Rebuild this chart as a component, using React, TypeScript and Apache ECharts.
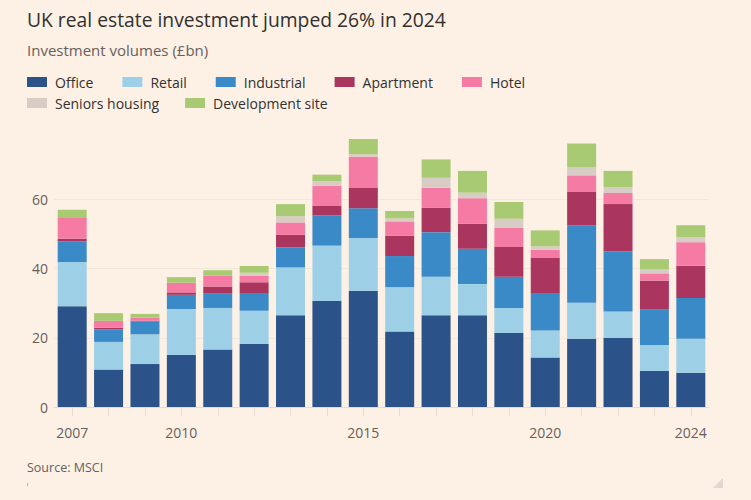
import React, { useEffect, useRef } from "react";
import * as echarts from "echarts";

const years = ["2007","2008","2009","2010","2011","2012","2013","2014","2015","2016","2017","2018","2019","2020","2021","2022","2023","2024"];
const shownYears = ["2007","2010","2015","2020","2024"];

const office     = [29.1,10.8,12.4,15.0,16.6,18.2,26.5,30.6,33.6,21.8,26.5,26.5,21.4,14.3,19.7,20.0,10.4, 9.9];
const retail     = [12.8, 8.0, 8.6,13.3,12.0, 9.6,13.8,16.0,15.2,12.8,11.1, 9.0, 7.2, 7.8,10.4, 7.6, 7.5, 9.8];
const industrial = [ 6.0, 3.6, 3.7, 4.1, 4.3, 5.1, 5.8, 8.7, 8.6, 9.0,12.9,10.2, 9.0,10.8,22.4,17.4,10.2,11.8];
const apartment  = [ 0.7, 0.5, 0.2, 0.7, 1.9, 3.1, 3.6, 2.9, 6.0, 5.9, 7.0, 7.2, 8.6,10.3, 9.6,13.6, 8.4, 9.3];
const hotel      = [ 6.0, 2.0, 0.9, 2.8, 3.1, 1.8, 3.6, 5.7, 8.9, 4.1, 5.8, 7.4, 5.5, 2.2, 4.8, 3.2, 2.1, 6.8];
const seniors    = [ 0.0, 0.0, 0.0, 0.0, 0.0, 1.0, 1.8, 1.3, 0.7, 0.9, 2.9, 1.6, 2.7, 1.0, 2.3, 1.7, 1.1, 1.5];
const devSite    = [ 2.4, 2.2, 1.1, 1.6, 1.6, 1.9, 3.5, 1.9, 4.4, 2.1, 5.3, 6.3, 4.8, 4.6, 6.9, 4.7, 3.0, 3.4];

const seriesNames = ["Office","Retail","Industrial","Apartment","Hotel","Seniors housing","Development site"];
const seriesData = [office, retail, industrial, apartment, hotel, seniors, devSite];
const seriesColors = ["#2b5289","#9dd0e6","#3b8ac8","#aa355f","#f57ba5","#d8cdc4","#a8ca72"];

const yTicks = [0, 20, 40, 60];

const FONT = "'Open Sans', 'Noto Sans', sans-serif";

export default function App() {
  const ref = useRef<HTMLDivElement>(null);
  useEffect(() => {
    document.body.style.margin = "0";
    if (!ref.current) return;
    const chart = echarts.init(ref.current, null, { renderer: "svg" });
    const legendText = { color: "#33302e", fontSize: 14, fontFamily: FONT, padding: [0, 0, 0, 3] };
    chart.setOption({
      animation: false,
      backgroundColor: "#fdf1e6",
      textStyle: { fontFamily: FONT },
      title: [
        { text: "UK real estate investment jumped 26% in 2024", left: 27, top: 10, padding: 0,
          textStyle: { fontSize: 19.3, fontWeight: "normal", color: "#33302e", fontFamily: FONT } },
        { text: "Investment volumes (£bn)", left: 27, top: 42, padding: 0,
          textStyle: { fontSize: 15, fontWeight: "normal", color: "#66605c", fontFamily: FONT } },
        { text: "Source: MSCI", left: 27, top: 461, padding: 0,
          textStyle: { fontSize: 12.5, fontWeight: "normal", color: "#66605c", fontFamily: FONT } },
      ],
      legend: [
        { data: seriesNames.slice(0, 5), left: 27, top: 75, padding: 0, itemWidth: 20, itemHeight: 10, itemGap: 29,
          icon: "rect", textStyle: legendText, selectedMode: false },
        { data: seriesNames.slice(5), left: 27, top: 96, padding: 0, itemWidth: 20, itemHeight: 10, itemGap: 26,
          icon: "rect", textStyle: legendText, selectedMode: false },
      ],
      grid: { left: 54, right: 42, top: 130, bottom: 93 },
      xAxis: {
        type: "category",
        data: years,
        axisLine: { show: true, lineStyle: { color: "#e6dbd0", width: 1 } },
        axisTick: { show: true, alignWithLabel: true, interval: 0, length: 9, lineStyle: { color: "#e6dbd0" } },
        axisLabel: {
          interval: 0, margin: 18, color: "#66605c", fontSize: 14, fontFamily: FONT,
          formatter: (v: string) => (shownYears.includes(v) ? v : ""),
        },
      },
      yAxis: {
        type: "value",
        min: 0, max: 80, interval: 20,
        axisLine: { show: false },
        axisTick: { show: false },
        axisLabel: {
          color: "#66605c", fontSize: 14, fontFamily: FONT, margin: 6,
          formatter: (v: number) => (yTicks.includes(v) ? String(v) : ""),
        },
        splitLine: { lineStyle: { color: ["#f3e6da", "#f3e6da", "#f3e6da", "#f3e6da", "rgba(0,0,0,0)"], width: 1 } },
      },
      series: seriesNames.map((name, i) => ({
        name, type: "bar", stack: "total", data: seriesData[i], barWidth: 29,
        itemStyle: { color: seriesColors[i] },
        emphasis: { disabled: true },
      })),
      graphic: [
        { type: "polygon", shape: { points: [[723, 478], [723, 488], [713, 488]] }, style: { fill: "#e0d8d0" } },
        { type: "rect", shape: { x: 27, y: 483, width: 1, height: 3 }, style: { fill: "#b8aea6" } },
      ],
    });
    return () => chart.dispose();
  }, []);
  return <div ref={ref} style={{ width: 751, height: 500 }} />;
}
